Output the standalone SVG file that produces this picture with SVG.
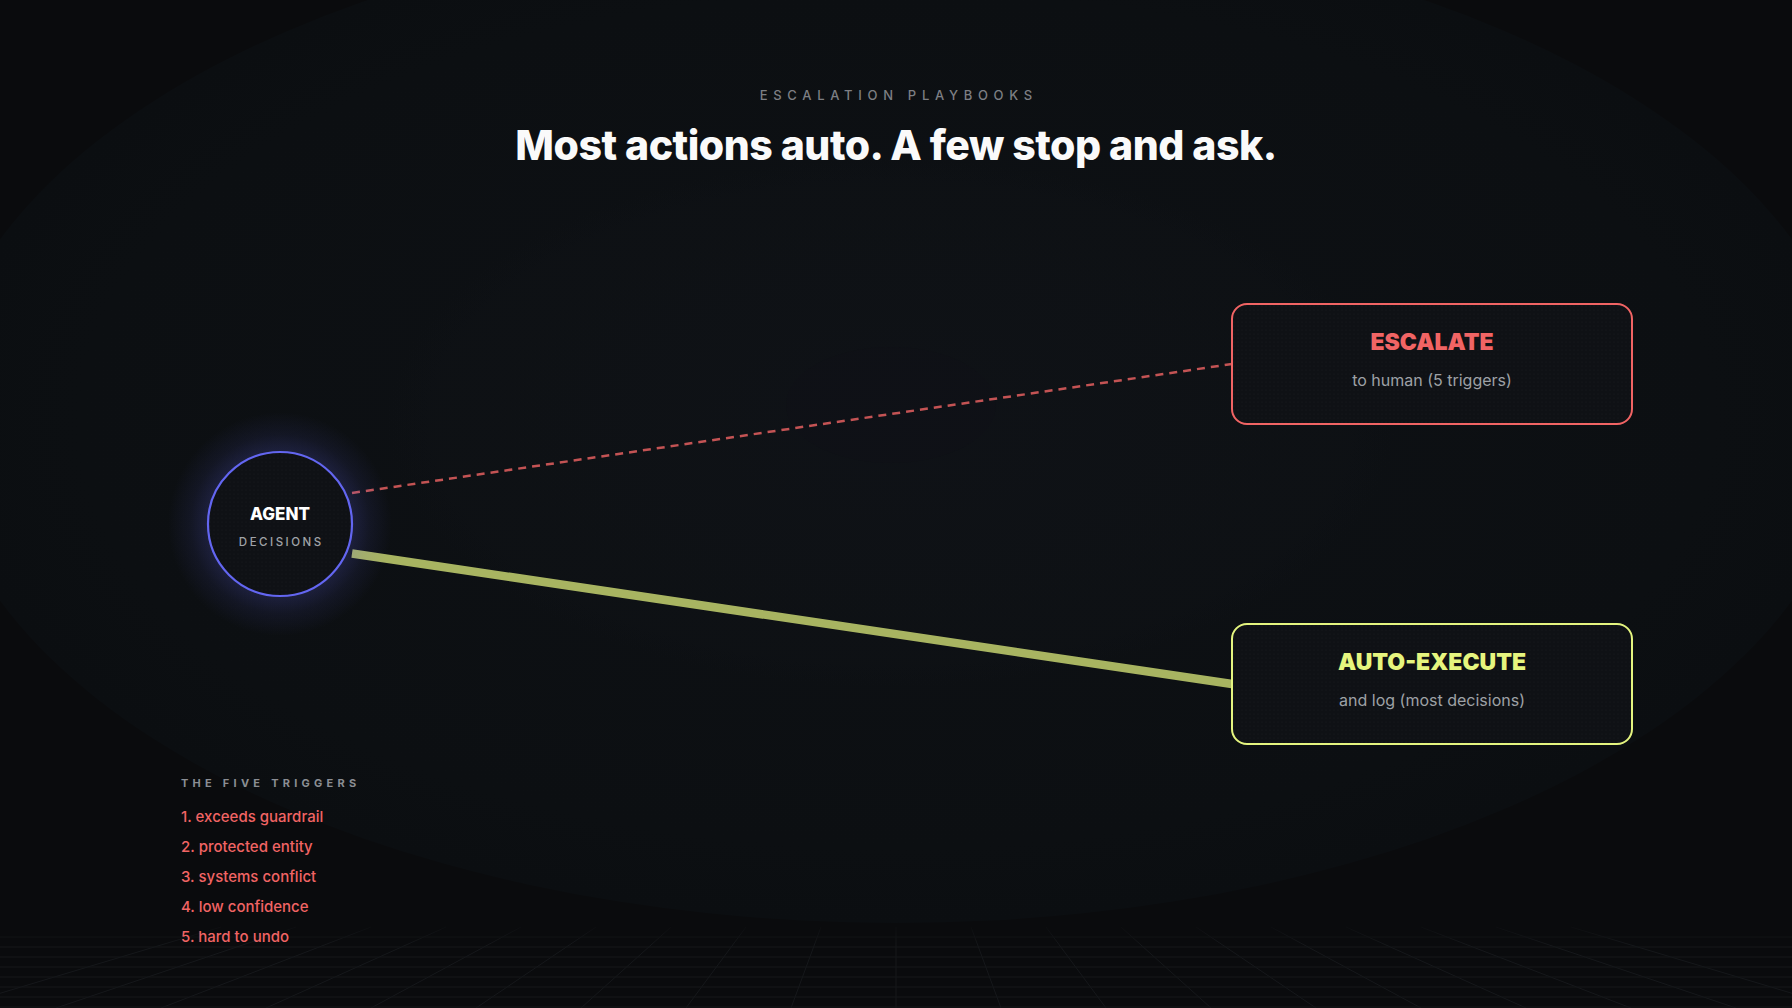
<svg xmlns="http://www.w3.org/2000/svg" width="1792" height="1008" viewBox="0 0 1792 1008">
  <defs>
    <style>
      .sans { font-family: Inter, "Liberation Sans", sans-serif; }
      .eyebrow { font-size: 13px; font-weight: 500; letter-spacing: 5.7px; fill: #7d7f84; }
      .title { font-size: 41px; font-weight: 800; letter-spacing: -0.5px; fill: #fafafa; }
      .box-title { font-size: 23px; font-weight: 900; }
      .box-sub { font-size: 16px; font-weight: 400; fill: #9ea1a6; }
      .legend-head { font-size: 11px; font-weight: 700; letter-spacing: 4.25px; fill: #8b8e94; }
      .legend-item { font-size: 15px; font-weight: 500; fill: #f16464; }
      .grid line { stroke: #16181b; stroke-width: 1; }
    </style>
    <radialGradient id="bgBig" cx="896" cy="420" r="960" gradientUnits="userSpaceOnUse" gradientTransform="translate(896 420) scale(1 0.524) translate(-896 -420)">
      <stop offset="0" stop-color="#0e1115"/>
      <stop offset="0.85" stop-color="#0c0f12"/>
      <stop offset="1" stop-color="#0b0e11"/>
    </radialGradient>
    <radialGradient id="bgInner" cx="0.5" cy="0.5" r="0.5">
      <stop offset="0" stop-color="#0f1217" stop-opacity="0.8"/>
      <stop offset="0.9" stop-color="#0f1216" stop-opacity="0.4"/>
      <stop offset="1" stop-color="#0f1216" stop-opacity="0"/>
    </radialGradient>
    <radialGradient id="glow" cx="280" cy="524" r="112" gradientUnits="userSpaceOnUse">
      <stop offset="0.6" stop-color="#6366f1" stop-opacity="0.22"/>
      <stop offset="0.8" stop-color="#6366f1" stop-opacity="0.08"/>
      <stop offset="1" stop-color="#6366f1" stop-opacity="0"/>
    </radialGradient>
    <pattern id="dots" width="4" height="4" patternUnits="userSpaceOnUse">
      <rect width="4" height="4" fill="#0f1115"/>
      <circle cx="2" cy="2" r="0.6" fill="#ffffff" fill-opacity="0.04"/>
    </pattern>
    <linearGradient id="gridFade" x1="0" y1="925" x2="0" y2="1008" gradientUnits="userSpaceOnUse">
      <stop offset="0" stop-color="#fff" stop-opacity="0.2"/>
      <stop offset="0.25" stop-color="#fff" stop-opacity="1"/>
      <stop offset="1" stop-color="#fff" stop-opacity="1"/>
    </linearGradient>
    <mask id="gridMask">
      <rect x="0" y="925" width="1792" height="83" fill="url(#gridFade)"/>
    </mask>
  </defs>

  <!-- background -->
  <rect width="1792" height="1008" fill="#0a0b0d"/>
  <ellipse cx="896" cy="420" rx="960" ry="503" fill="url(#bgBig)"/>
  <ellipse cx="891" cy="423" rx="505" ry="265" fill="url(#bgInner)"/>
  <ellipse cx="891" cy="405" rx="105" ry="58" fill="#0f1217" fill-opacity="0.3"/>

  <g class="grid" mask="url(#gridMask)">
    <line x1="0" y1="937" x2="1792" y2="937"/>
    <line x1="0" y1="947" x2="1792" y2="947"/>
    <line x1="0" y1="957" x2="1792" y2="957"/>
    <line x1="0" y1="967" x2="1792" y2="967"/>
    <line x1="0" y1="977" x2="1792" y2="977"/>
    <line x1="0" y1="987" x2="1792" y2="987"/>
    <line x1="0" y1="997" x2="1792" y2="997"/>
    <line x1="0" y1="1007" x2="1792" y2="1007"/>
    <line x1="896" y1="927" x2="896" y2="1008" stroke-width="1.5"/>
    <line x1="971" y1="927" x2="1001" y2="1008"/>
    <line x1="821" y1="927" x2="791" y2="1008"/>
    <line x1="1046" y1="927" x2="1106" y2="1008"/>
    <line x1="746" y1="927" x2="686" y2="1008"/>
    <line x1="1121" y1="927" x2="1211" y2="1008"/>
    <line x1="671" y1="927" x2="581" y2="1008"/>
    <line x1="1196" y1="927" x2="1316" y2="1008"/>
    <line x1="596" y1="927" x2="476" y2="1008"/>
    <line x1="1271" y1="927" x2="1421" y2="1008"/>
    <line x1="521" y1="927" x2="371" y2="1008"/>
    <line x1="1346" y1="927" x2="1526" y2="1008"/>
    <line x1="446" y1="927" x2="266" y2="1008"/>
    <line x1="1421" y1="927" x2="1631" y2="1008"/>
    <line x1="371" y1="927" x2="161" y2="1008"/>
    <line x1="1496" y1="927" x2="1736" y2="1008"/>
    <line x1="296" y1="927" x2="56" y2="1008"/>
    <line x1="1571" y1="927" x2="1841" y2="1008"/>
    <line x1="221" y1="927" x2="-49" y2="1008"/>
  </g>

  <!-- header -->
  <g id="header" class="sans">
    <text class="eyebrow" x="898.8" y="100" text-anchor="middle">ESCALATION PLAYBOOKS</text>
    <text class="title" x="896" y="160" text-anchor="middle">Most actions auto. A few stop and ask.</text>
  </g>

  <!-- connectors -->
  <g id="connectors" fill="none">
    <line id="edge-escalate" x1="352" y1="493" x2="1232" y2="364" stroke="#f16464" stroke-opacity="0.8" stroke-width="2.5" stroke-dasharray="8 6"/>
    <line id="edge-auto" x1="352" y1="553.5" x2="1232" y2="684" stroke="#e4f47f" stroke-opacity="0.72" stroke-width="8.5"/>
  </g>

  <!-- agent node -->
  <g id="node-agent" class="sans">
    <circle cx="280" cy="524" r="112" fill="url(#glow)"/>
    <circle cx="280" cy="524" r="72" fill="url(#dots)" stroke="#6366f1" stroke-width="2.2"/>
    <text x="280" y="520" text-anchor="middle" font-size="17" font-weight="800" fill="#ffffff">AGENT</text>
    <text x="281.25" y="545.5" text-anchor="middle" font-size="11.5" font-weight="500" letter-spacing="2.5" fill="#a0a3a8">DECISIONS</text>
  </g>

  <!-- escalate node -->
  <g id="node-escalate" class="sans">
    <rect x="1232" y="304" width="400" height="120" rx="15" fill="url(#dots)" stroke="#f16464" stroke-width="2"/>
    <text class="box-title" x="1432" y="350" text-anchor="middle" fill="#f16464">ESCALATE</text>
    <text class="box-sub" x="1432" y="385.5" text-anchor="middle">to human (5 triggers)</text>
  </g>

  <!-- auto-execute node -->
  <g id="node-auto" class="sans">
    <rect x="1232" y="624" width="400" height="120" rx="15" fill="url(#dots)" stroke="#e4f47f" stroke-width="2"/>
    <text class="box-title" x="1432" y="670" text-anchor="middle" fill="#e6f57e">AUTO-EXECUTE</text>
    <text class="box-sub" x="1432" y="706" text-anchor="middle">and log (most decisions)</text>
  </g>

  <!-- legend -->
  <g id="legend" class="sans">
    <text class="legend-head" x="181" y="787">THE FIVE TRIGGERS</text>
    <text class="legend-item" x="181" y="822">1. exceeds guardrail</text>
    <text class="legend-item" x="181" y="852">2. protected entity</text>
    <text class="legend-item" x="181" y="882">3. systems conflict</text>
    <text class="legend-item" x="181" y="912">4. low confidence</text>
    <text class="legend-item" x="181" y="942">5. hard to undo</text>
  </g>
</svg>
